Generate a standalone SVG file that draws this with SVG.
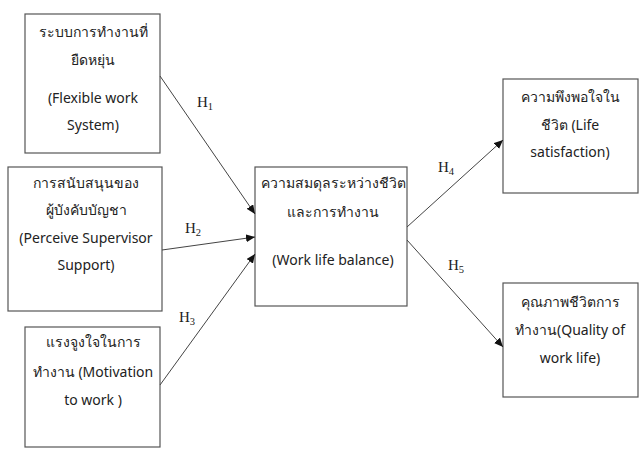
<svg xmlns="http://www.w3.org/2000/svg" width="641" height="450" viewBox="0 0 641 450">
<style>
.box{fill:#fff;stroke:#555;stroke-width:1.2}
.t{font-family:"Noto Sans","Open Sans",sans-serif;font-size:14px;fill:#222;text-anchor:middle}
.h{font-family:"Liberation Serif","DejaVu Serif",serif;font-size:15px;fill:#222}
.h tspan.s{font-size:10.5px}
.c{stroke:#444;stroke-width:1;fill:none;marker-end:url(#ah)}
</style>
<defs>
<marker id="ah" markerWidth="9" markerHeight="8" refX="9" refY="4" orient="auto" markerUnits="userSpaceOnUse">
<path d="M0,0 L9,4 L0,8 Z" fill="#111"/>
</marker>
</defs>
<rect width="641" height="450" fill="#fff"/>
<g id="n1">
<rect class="box" x="25" y="14" width="135" height="139"/>
<text class="t" x="93" y="37">ระบบการทำงานที่</text>
<text class="t" x="93" y="65">ยืดหยุ่น</text>
<text class="t" x="93" y="103">(Flexible work</text>
<text class="t" x="93" y="130">System)</text>
</g>
<g id="n2">
<rect class="box" x="8" y="167" width="154" height="144"/>
<text class="t" x="86" y="188">การสนับสนุนของ</text>
<text class="t" x="86" y="215">ผู้บังคับบัญชา</text>
<text class="t" x="86" y="243">(Perceive Supervisor</text>
<text class="t" x="86" y="270">Support)</text>
</g>
<g id="n3">
<rect class="box" x="25" y="327" width="135" height="120"/>
<text class="t" x="93" y="347">แรงจูงใจในการ</text>
<text class="t" x="93" y="377">ทำงาน (Motivation</text>
<text class="t" x="93" y="405">to work )</text>
</g>
<g id="n4">
<rect class="box" x="255" y="167" width="152" height="139"/>
<text class="t" x="333" y="188">ความสมดุลระหว่างชีวิต</text>
<text class="t" x="333" y="217">และการทำงาน</text>
<text class="t" x="333" y="265">(Work life balance)</text>
</g>
<g id="n5">
<rect class="box" x="503" y="79" width="135" height="114"/>
<text class="t" x="570" y="102">ความพึงพอใจใน</text>
<text class="t" x="570" y="130">ชีวิต (Life</text>
<text class="t" x="570" y="157">satisfaction)</text>
</g>
<g id="n6">
<rect class="box" x="503" y="283" width="135" height="114"/>
<text class="t" x="570" y="307">คุณภาพชีวิตการ</text>
<text class="t" x="570" y="335">ทำงาน(Quality of</text>
<text class="t" x="570" y="363">work life)</text>
</g>
<g id="connectors">
<line class="c" x1="160" y1="76" x2="255" y2="214"/>
<line class="c" x1="162" y1="250" x2="255" y2="237"/>
<line class="c" x1="160" y1="385" x2="255" y2="254"/>
<line class="c" x1="407" y1="227" x2="503" y2="140"/>
<line class="c" x1="407" y1="240" x2="503" y2="347"/>
</g>
<g id="labels">
<text class="h" x="197" y="107">H<tspan class="s" dy="3">1</tspan></text>
<text class="h" x="185" y="233">H<tspan class="s" dy="3">2</tspan></text>
<text class="h" x="179" y="322">H<tspan class="s" dy="3">3</tspan></text>
<text class="h" x="438" y="172">H<tspan class="s" dy="3">4</tspan></text>
<text class="h" x="448" y="270">H<tspan class="s" dy="3">5</tspan></text>
</g>
</svg>
